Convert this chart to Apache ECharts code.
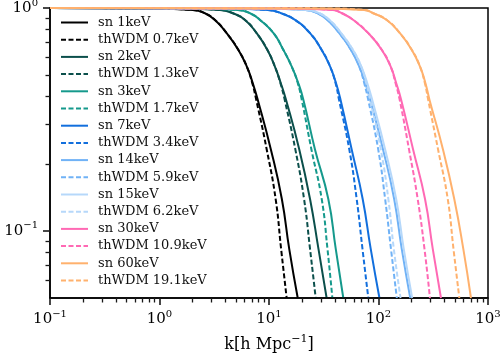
<!DOCTYPE html>
<html><head><meta charset="utf-8">
<script src="https://cdn.jsdelivr.net/npm/echarts@6/dist/echarts.min.js"></script>
<style>html,body{margin:0;padding:0;background:#fff}#c{width:500px;height:355px}</style>
</head><body><div id="c"></div>
<script>
const T_levels = [1.0, 0.996, 0.98, 0.947, 0.884, 0.771, 0.65, 0.547, 0.461, 0.388, 0.232, 0.139, 0.083, 0.05];

// k [h/Mpc] for each curve at the T levels above
const k_sn1     = [0.1, 0.80, 2.02, 2.60, 3.21, 4.11, 5.24, 6.26, 7.10, 7.89, 10.4, 13.1, 15.3, 18.3];
const k_wdm0_7  = [0.1, 0.80, 2.02, 2.60, 3.21, 4.11, 5.24, 6.26, 7.03, 7.64, 9.53, 11.5, 12.9, 14.5];
const k_sn2     = [0.1, 1.42, 3.57, 4.69, 6.04, 7.72, 9.65, 11.3, 12.8, 14.3, 18.9, 23.7, 28.3, 33.6];
const k_wdm1_3  = [0.1, 1.42, 3.57, 4.69, 6.04, 7.72, 9.65, 11.3, 12.7, 13.9, 17.4, 20.9, 23.7, 26.7];
const k_sn3     = [0.1, 2.08, 5.21, 6.71, 8.28, 11.0, 13.5, 16.1, 18.5, 20.6, 26.3, 34.8, 40.7, 47.7];
const k_wdm1_7  = [0.1, 2.08, 5.21, 6.71, 8.28, 11.0, 13.5, 16.1, 18.3, 19.9, 24.4, 30.3, 34.2, 37.9];
const k_sn7     = [0.1, 3.90, 9.79, 12.9, 17.3, 23.7, 30.2, 36.1, 40.9, 45.0, 56.9, 71.7, 84.9, 102];
const k_wdm3_4  = [0.1, 3.90, 9.79, 12.9, 17.3, 23.7, 30.2, 36.1, 40.5, 43.6, 54.1, 63.2, 71.4, 80.7];
const k_sn14    = [0.1, 8.58, 21.5, 27.7, 34.2, 43.8, 55.9, 66.6, 75.6, 84.0, 110, 139, 163, 195];
const k_wdm5_9  = [0.1, 8.58, 21.5, 27.7, 34.2, 43.8, 55.9, 66.6, 74.0, 80.5, 99.4, 115, 130, 147];
const k_sn15    = [0.1, 8.96, 22.5, 28.9, 35.7, 45.6, 58.3, 69.5, 78.9, 87.6, 115, 145, 170, 203];
const k_wdm6_2  = [0.1, 8.96, 22.5, 28.9, 35.7, 45.6, 58.3, 69.5, 77.2, 84.0, 105, 123, 138, 159];
const k_sn30    = [0.1, 15.3, 38.4, 46.4, 58.9, 80.7, 107, 129, 145, 161, 207, 266, 313, 372];
const k_wdm10_9 = [0.1, 15.3, 38.4, 46.4, 58.9, 80.7, 107, 129, 143, 156, 190, 228, 263, 295];
const k_sn60    = [0.1, 29.4, 73.7, 89.7, 119, 157, 201, 239, 268, 292, 388, 492, 595, 699];
const k_wdm19_1 = [0.1, 29.4, 73.7, 89.7, 119, 157, 201, 239, 265, 284, 350, 429, 484, 547];

const seriesNames = ['sn 1keV','thWDM 0.7keV','sn 2keV','thWDM 1.3keV','sn 3keV','thWDM 1.7keV',
  'sn 7keV','thWDM 3.4keV','sn 14keV','thWDM 5.9keV','sn 15keV','thWDM 6.2keV',
  'sn 30keV','thWDM 10.9keV','sn 60keV','thWDM 19.1keV'];
const seriesK = [k_sn1,k_wdm0_7,k_sn2,k_wdm1_3,k_sn3,k_wdm1_7,k_sn7,k_wdm3_4,
  k_sn14,k_wdm5_9,k_sn15,k_wdm6_2,k_sn30,k_wdm10_9,k_sn60,k_wdm19_1];

// tick positions (axis values)
const xMajorTicks = [0.1, 1, 10, 100, 1000];
const xMinorTicks = [0.2,0.3,0.4,0.5,0.6,0.7,0.8,0.9, 2,3,4,5,6,7,8,9, 20,30,40,50,60,70,80,90, 200,300,400,500,600,700,800,900];
const yMajorTicks = [0.1, 1];
const yMinorTicks = [0.06,0.07,0.08,0.09, 0.2,0.3,0.4,0.5,0.6,0.7,0.8,0.9];

const pairColors = ['#000000','#0b4f4b','#15998c','#126fdd','#70b2f6','#b6d8fa','#ff69b4','#ffb16d'];
const TICK = 'rgb(25,25,25)';

const FONT = 'DejaVu Serif';
function powLabel(v){
  const e = Math.round(Math.log10(v));
  return '{b|10}{s|' + (e < 0 ? '\u2212' + (-e) : e) + '}';
}
const labelRich = {
  b: {fontFamily: FONT, fontSize: 15, color: '#000'},
  s: {fontFamily: FONT, fontSize: 10, color: '#000', padding: [0,0,10,0]}
};

const series = seriesNames.map((n, i) => ({
  name: n, type: 'line', symbol: 'none', showSymbol: false, smooth: 0.5,
  xAxisIndex: 0, yAxisIndex: 0,
  data: seriesK[i].map((k, j) => [k, T_levels[j]]),
  lineStyle: {color: pairColors[i >> 1], width: 2, type: (i % 2) ? [5, 2.5] : 'solid'},
  itemStyle: {color: pairColors[i >> 1]},
  clip: true, z: 2 + i, animation: false
}));

const logX = [Math.log10(0.1), Math.log10(1000)];
const logY = [Math.log10(0.05), 0];

const chart = echarts.init(document.getElementById('c'), null, {renderer: 'canvas'});
chart.setOption({
  animation: false,
  backgroundColor: '#fff',
  grid: {left: 50, right: 12, top: 8, bottom: 57, outerBoundsMode: 'none',
         show: true, borderColor: '#000', borderWidth: 1.5, backgroundColor: 'transparent'},
  legend: {
    orient: 'vertical', left: 60, top: 16, padding: 0,
    itemWidth: 27, itemHeight: 12, itemGap: 4.2,
    itemStyle: {opacity: 0, borderWidth: 0},
    textStyle: {fontFamily: FONT, fontSize: 13, color: '#111', padding: [0,0,0,5]},
    data: seriesNames
  },
  xAxis: [{
    type: 'log', logBase: 10, min: 0.1, max: 1000, position: 'bottom', z: 10,
    axisLine: {show: true, onZero: false, lineStyle: {color: '#000', width: 1.5}},
    axisTick: {show: true, inside: false, customValues: xMajorTicks, length: 7, lineStyle: {color: TICK, width: 1.6}},
    axisLabel: {customValues: xMajorTicks, formatter: powLabel, rich: labelRich, margin: 11},
    splitLine: {show: false},
    name: '{n|k[h Mpc}{s|\u22121}{n|]}', nameLocation: 'middle', nameGap: 36,
    nameTextStyle: {rich: {n: {fontFamily: FONT, fontSize: 16, color: '#000'}, s: {fontFamily: FONT, fontSize: 11, color: '#000', padding: [0,0,10,0]}}}
  }, {
    type: 'value', min: logX[0], max: logX[1], position: 'bottom', gridIndex: 0, z: 10,
    axisLine: {show: false, onZero: false},
    axisTick: {show: true, inside: false, customValues: xMinorTicks.map(Math.log10), length: 4.5, lineStyle: {color: TICK, width: 1.3}},
    axisLabel: {show: false}, splitLine: {show: false}
  }],
  yAxis: [{
    type: 'log', logBase: 10, min: 0.05, max: 1, position: 'left', z: 10,
    axisLine: {show: true, onZero: false, lineStyle: {color: '#000', width: 1.5}},
    axisTick: {show: true, inside: false, customValues: yMajorTicks, length: 7, lineStyle: {color: TICK, width: 1.6}},
    axisLabel: {customValues: yMajorTicks, formatter: powLabel, rich: labelRich, margin: 12},
    splitLine: {show: false},
    name: '{i|T}{sub|s}{n|(}{i|k}{n|)}', nameLocation: 'middle', nameGap: 16, nameRotate: 90,
    nameTextStyle: {rich: {
      i: {fontFamily: FONT, fontSize: 17, fontStyle: 'italic', color: '#000'},
      n: {fontFamily: FONT, fontSize: 17, color: '#000'},
      sub: {fontFamily: FONT, fontSize: 11, fontStyle: 'italic', color: '#000', padding: [7,0,0,0]}
    }}
  }, {
    type: 'value', min: logY[0], max: logY[1], position: 'left', gridIndex: 0, z: 10,
    axisLine: {show: false, onZero: false},
    axisTick: {show: true, inside: false, customValues: yMinorTicks.map(Math.log10), length: 4.5, lineStyle: {color: TICK, width: 1.3}},
    axisLabel: {show: false}, splitLine: {show: false}
  }],
  series: series
});
</script></body></html>
